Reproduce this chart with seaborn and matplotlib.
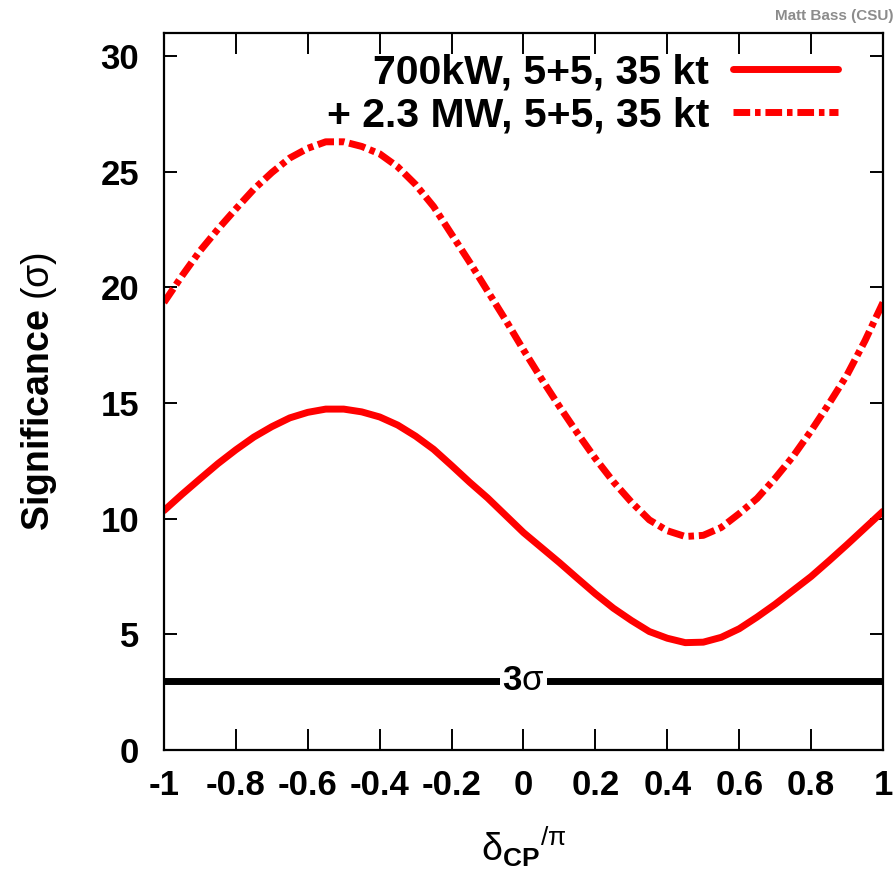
import matplotlib
matplotlib.use("Agg")
import matplotlib.pyplot as plt
import seaborn as sns

# delta_CP / pi grid and significance (sigma)
dcp = [-1.00, -0.95, -0.90, -0.85, -0.80, -0.75, -0.70, -0.65, -0.60, -0.55,
       -0.50, -0.45, -0.40, -0.35, -0.30, -0.25, -0.20, -0.15, -0.10, -0.05,
       0.00, 0.05, 0.10, 0.15, 0.20, 0.25, 0.30, 0.35, 0.40, 0.45,
       0.50, 0.55, 0.60, 0.65, 0.70, 0.75, 0.80, 0.85, 0.90, 0.95, 1.00]
sig_700kw = [10.35, 11.05, 11.72, 12.38, 12.98, 13.53, 13.98, 14.36, 14.60, 14.74,
             14.74, 14.62, 14.40, 14.05, 13.57, 13.00, 12.30, 11.58, 10.90, 10.15,
             9.40, 8.75, 8.10, 7.42, 6.75, 6.13, 5.60, 5.12, 4.83, 4.64,
             4.66, 4.87, 5.24, 5.75, 6.30, 6.90, 7.50, 8.18, 8.88, 9.60, 10.32]
sig_23mw = [19.35, 20.50, 21.58, 22.52, 23.40, 24.25, 24.97, 25.60, 26.02, 26.30,
            26.30, 26.10, 25.78, 25.22, 24.45, 23.50, 22.30, 21.10, 19.85, 18.60,
            17.30, 16.05, 14.85, 13.70, 12.60, 11.60, 10.72, 9.95, 9.48, 9.23,
            9.28, 9.62, 10.22, 10.88, 11.75, 12.70, 13.80, 14.98, 16.22, 17.70, 19.35]
three_sigma = 3

labels = ["700kW, 5+5, 35 kt", "+ 2.3 MW, 5+5, 35 kt"]
xticks = [-1, -0.8, -0.6, -0.4, -0.2, 0, 0.2, 0.4, 0.6, 0.8, 1]
xtick_labels = ["-1", "-0.8", "-0.6", "-0.4", "-0.2", "0", "0.2", "0.4", "0.6", "0.8", "1"]
yticks = [0, 5, 10, 15, 20, 25, 30]

sns.set_theme(style="ticks", rc={"text.color": "black", "axes.labelcolor": "black",
                                 "xtick.color": "black", "ytick.color": "black",
                                 "axes.edgecolor": "black"})
plt.rcParams["font.family"] = ["Liberation Sans", "DejaVu Sans"]
plt.rcParams["mathtext.fontset"] = "custom"
plt.rcParams["mathtext.rm"] = "Liberation Sans"
plt.rcParams["mathtext.it"] = "Liberation Sans"
plt.rcParams["mathtext.bf"] = "Liberation Sans:bold"
plt.rcParams["mathtext.default"] = "regular"
plt.rcParams["axes.unicode_minus"] = False

fig = plt.figure(figsize=(8.96, 8.72), dpi=100)
ax = fig.add_axes([0.183, 0.14, 0.8025, 0.822])

red = "#ff0000"
sns.lineplot(x=dcp, y=sig_700kw, ax=ax, color=red, lw=5, label=labels[0])
sns.lineplot(x=dcp, y=sig_23mw, ax=ax, color=red, lw=5, label=labels[1])
ax.lines[1].set_linestyle((0, (2.4, 0.7, 0.8, 0.7)))
ax.lines[1].set_dash_capstyle("butt")

ax.axhline(three_sigma, color="black", lw=5, zorder=3)
ax.text(0, three_sigma, r"$\mathbf{3}$σ", ha="center", va="center", fontsize=25,
        zorder=4, bbox=dict(facecolor="white", edgecolor="none", pad=1.5))

ax.set_xlim(-1, 1)
ax.set_ylim(0, 31)
ax.set_xticks(xticks)
ax.set_xticklabels(xtick_labels)
ax.set_yticks(yticks)
ax.tick_params(direction="in", width=1.4, top=True, right=True, labelsize=25)
ax.tick_params(axis="x", length=15, pad=14)
ax.tick_params(axis="y", length=9.5, pad=18)
for lab in ax.get_xticklabels() + ax.get_yticklabels():
    lab.set_fontweight("bold")
for sp in ax.spines.values():
    sp.set_linewidth(1.6)

ax.set_ylabel(r"$\mathbf{Significance}$ (σ)", fontsize=27, labelpad=30)
ax.set_xlabel(r"δ$_{\mathbf{CP}}{}^{/π}$", fontsize=27, labelpad=16)

leg = ax.legend(loc="upper right", bbox_to_anchor=(0.9374, 0.9714), frameon=False,
                markerfirst=False, fontsize=29.5, handlelength=2.56,
                handletextpad=0.585, labelspacing=0.12, borderaxespad=0,
                borderpad=0)
for t in leg.get_texts():
    t.set_fontweight("bold")

fig.text(0.997, 0.982, "Matt Bass (CSU)", ha="right", va="center",
         fontsize=11, fontweight="bold", color="#8c8c8c")

fig.savefig("out.png", dpi=100)
